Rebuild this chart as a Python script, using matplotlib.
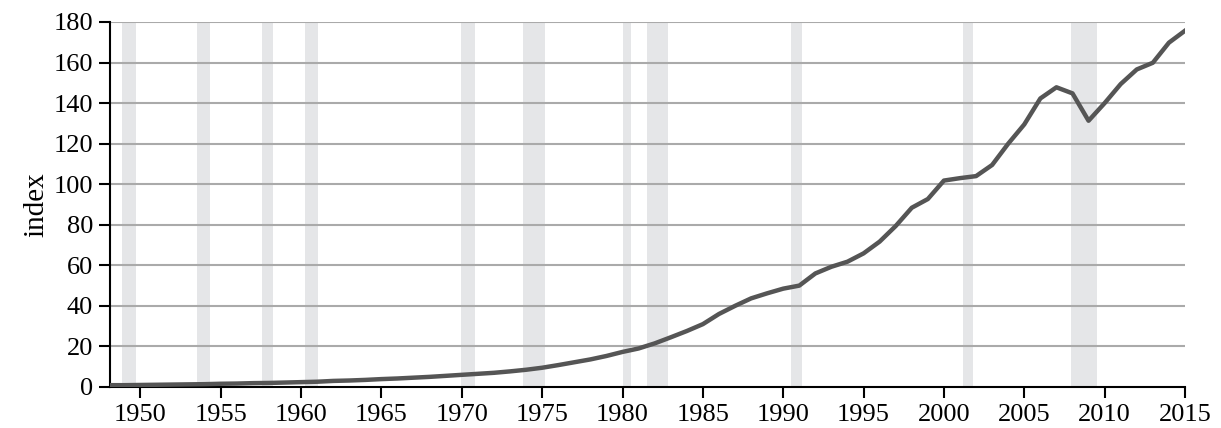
import numpy as np
import matplotlib.pyplot as plt

# jahreswerte
years = np.arange(1948, 2016)
index_vals = [0.9, 0.9, 1.0, 1.1, 1.2, 1.3, 1.4, 1.6, 1.7, 1.9,
              2.0, 2.2, 2.4, 2.6, 3.0, 3.2, 3.5, 3.9, 4.2, 4.6,
              5.0, 5.5, 6.0, 6.5, 7.0, 7.7, 8.5, 9.5, 10.8, 12.2,
              13.6, 15.3, 17.3, 19.0, 21.5, 24.5, 27.6, 31.0, 36.0, 40.0,
              43.7, 46.2, 48.5, 50.0, 56.0, 59.3, 61.8, 65.9, 71.7, 79.4,
              88.4, 92.7, 101.8, 103.0, 104.0, 109.5, 120.0, 129.5, 142.3, 147.8,
              144.8, 131.3, 140.0, 149.4, 156.6, 159.9, 169.8, 175.7]

# rezessionen (start, ende) in dezimaljahren
rec_start = [1948.83, 1953.50, 1957.58, 1960.25, 1969.92, 1973.83, 1980.00, 1981.50, 1990.50, 2001.17, 2007.92]
rec_end   = [1949.75, 1954.33, 1958.25, 1961.08, 1970.83, 1975.17, 1980.50, 1982.83, 1991.17, 2001.83, 2009.50]

xticks = np.arange(1950, 2016, 5)
yticks = np.arange(0, 181, 20)

plt.rcParams['font.family'] = ['Liberation Serif', 'DejaVu Serif']

fig = plt.figure(figsize=(12.21, 4.28), dpi=100)
ax = fig.add_axes([0.090, 0.0958, 0.8805, 0.8528])

for s, e in zip(rec_start, rec_end):
    ax.axvspan(s, e, color='#e5e6e8', lw=0, zorder=0)

for y in yticks[1:]:
    ax.axhline(y, color='#aaaaaa', lw=1.5, zorder=1)

ax.plot(years, index_vals, color='#555555', lw=3.2, zorder=3)

ax.set_xlim(1948.1, 2015)
ax.set_ylim(0, 180)
ax.set_xticks(xticks)
ax.set_yticks(yticks)
ax.tick_params(direction='out', length=8, width=1.5, labelsize=19, colors='black', pad=4)

for side in ['top', 'right']:
    ax.spines[side].set_visible(False)
for side in ['left', 'bottom']:
    ax.spines[side].set_linewidth(1.5)

ax.set_ylabel('index', fontsize=21, labelpad=3)

fig.savefig('out.png', dpi=100)
